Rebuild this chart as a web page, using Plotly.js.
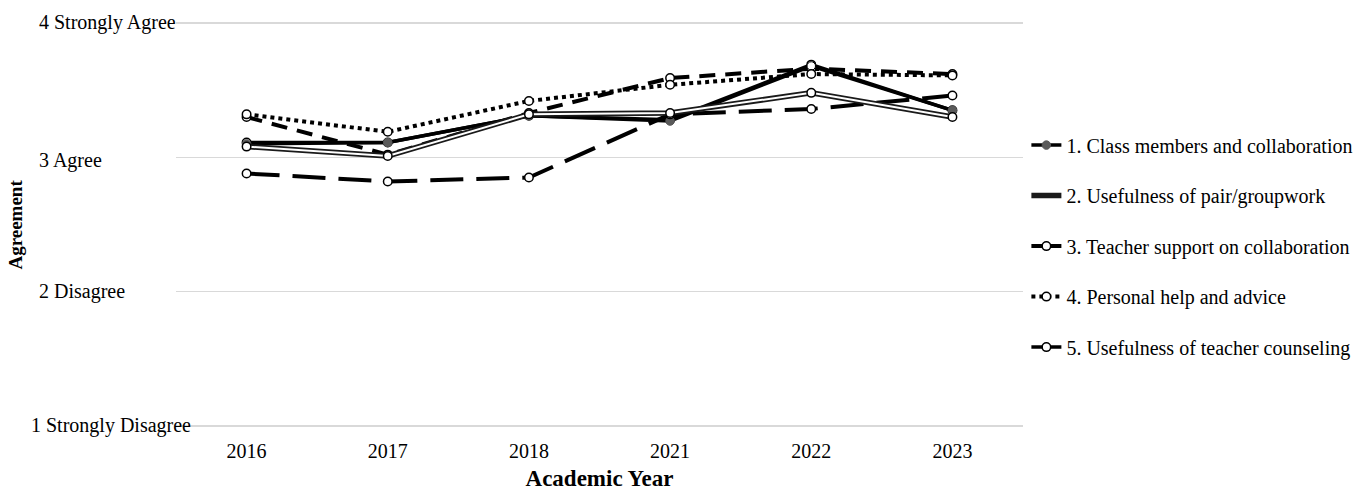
<!DOCTYPE html>
<html>
<head>
<meta charset="utf-8">
<script src="https://cdn.plot.ly/plotly-3.0.1.min.js"></script>
<style>
  html, body { margin: 0; padding: 0; background: #fff; }
  #chart { width: 1370px; height: 493px; }
</style>
</head>
<body>
<div id="chart"></div>
<script>
// academic years (category axis)
var years = ['2016', '2017', '2018', '2021', '2022', '2023']

// mean agreement per item
var classMembers   = [3.10, 3.11, 3.31, 3.27, 3.68, 3.35]
var pairGroupwork  = [3.08, 3.01, 3.32, 3.33, 3.48, 3.30]
var teacherSupport = [2.88, 2.82, 2.85, 3.32, 3.36, 3.46]
var personalHelp   = [3.32, 3.19, 3.42, 3.54, 3.62, 3.61]
var counseling     = [3.11, 3.11, 3.31, 3.28, 3.69, 3.35]
var unlabeled      = [3.30, 3.02, 3.33, 3.59, 3.66, 3.62]

var seriesNames = [
  '1. Class members and collaboration',
  '2. Usefulness of pair/groupwork',
  '3. Teacher support on collaboration',
  '4. Personal help and advice',
  '5. Usefulness of teacher counseling'
]

var yTickVals = [1, 2, 3, 4]
var yTickText = ['1 Strongly Disagree', '2 Disagree', '3 Agree', '4 Strongly Agree']

var openMarker = {symbol: 'circle', size: 8.5, color: '#fff', line: {color: '#000', width: 1.5}}

var data = [
  {
    x: years, y: unlabeled, mode: 'lines+markers', showlegend: false,
    line: {color: '#000', width: 4, dash: '16px,10px'},
    marker: openMarker
  },
  {
    x: years, y: counseling, mode: 'lines+markers', name: seriesNames[4],
    legendgroup: 'g5', legendrank: 5,
    line: {color: '#000', width: 3.5},
    marker: openMarker
  },
  {
    x: years, y: classMembers, mode: 'lines+markers', name: seriesNames[0],
    legendgroup: 'g1', legendrank: 1,
    line: {color: '#000', width: 3.5},
    marker: {symbol: 'circle', size: 8.5,
      color: ['#5a5a5a', '#5a5a5a', '#5a5a5a', '#5a5a5a', '#fff', '#5a5a5a'],
      line: {color: ['#5a5a5a', '#5a5a5a', '#5a5a5a', '#5a5a5a', '#000', '#5a5a5a'], width: 1}}
  },
  {
    x: years, y: teacherSupport, mode: 'lines+markers', name: seriesNames[2],
    legendgroup: 'g3', legendrank: 3,
    line: {color: '#000', width: 4, dash: '33px,13px'},
    marker: openMarker
  },
  {
    // outer stroke of the double line
    x: years, y: pairGroupwork, mode: 'lines', name: seriesNames[1],
    legendgroup: 'g2', legendrank: 2,
    line: {color: '#1a1a1a', width: 5.5}
  },
  {
    x: years, y: pairGroupwork, mode: 'lines+markers', showlegend: false,
    legendgroup: 'g2',
    line: {color: '#fff', width: 2},
    marker: openMarker
  },
  {
    x: years, y: personalHelp, mode: 'lines+markers', name: seriesNames[3],
    legendgroup: 'g4', legendrank: 4,
    line: {color: '#000', width: 4, dash: 'dot'},
    marker: openMarker
  }
]

var serif = 'Liberation Serif, Times New Roman, serif'

var labelShift = [0, 0, -3, 1]
var annotations = []
for (let k = 0; k < yTickVals.length; k++) {
  annotations.push({
    xref: 'paper', yref: 'y',
    x: k == 0 ? -0.173 : -0.164, y: yTickVals[k],
    xanchor: 'left', yanchor: 'middle', yshift: labelShift[k],
    text: yTickText[k], showarrow: false,
    font: {family: serif, size: 20, color: '#000'}
  })
}
annotations.push({
  xref: 'paper', yref: 'paper', x: -0.19, y: 0.5,
  xanchor: 'center', yanchor: 'middle', textangle: -90,
  text: '<b>Agreement</b>', showarrow: false,
  font: {family: serif, size: 19, color: '#000'}
})

var layout = {
  width: 1370,
  height: 493,
  margin: {l: 176, r: 345, t: 21, b: 65},
  paper_bgcolor: '#fff',
  plot_bgcolor: '#fff',
  showlegend: true,
  font: {family: serif, color: '#000'},
  xaxis: {
    type: 'category',
    range: [-0.5, 5.5],
    showgrid: false, zeroline: false, showline: false,
    ticks: '',
    ticklabelstandoff: 9,
    tickfont: {family: serif, size: 20, color: '#000'},
    title: {text: '<b>Academic Year</b>', font: {family: serif, size: 23, color: '#000'}, standoff: 8}
  },
  yaxis: {
    range: [0.985, 4.015],
    tickvals: yTickVals,
    showticklabels: false,
    showgrid: true, gridcolor: '#d9d9d9', gridwidth: 1.2,
    zeroline: false, showline: false, ticks: ''
  },
  legend: {
    x: 1.004, xanchor: 'left',
    y: 0.743, yanchor: 'top',
    font: {family: serif, size: 20, color: '#000'},
    tracegroupgap: 21.5,
    itemclick: false
  },
  annotations: annotations
}

Plotly.newPlot('chart', data, layout, {displayModeBar: false, staticPlot: true})
</script>
</body>
</html>
